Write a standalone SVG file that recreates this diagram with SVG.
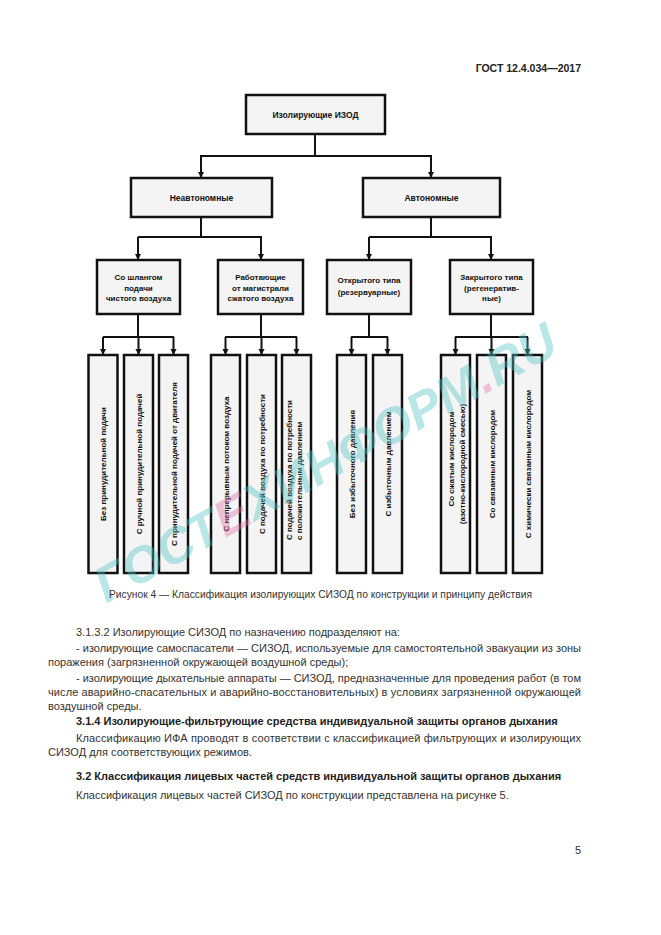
<svg xmlns="http://www.w3.org/2000/svg" width="661" height="935" viewBox="0 0 661 935">
<defs>
<marker id="arr" markerWidth="7" markerHeight="7" refX="6" refY="3.5" orient="auto" markerUnits="userSpaceOnUse">
<path d="M0,0.5 L6,3.5 L0,6.5 Z" fill="#111"/>
</marker>
<style>
.bx{fill:#f4f4f4;stroke:#111;stroke-width:2.5}
.lbl{font-family:"Liberation Sans",Arial,sans-serif;font-weight:bold;font-size:8px;fill:#111;text-anchor:middle}
.ln{fill:none;stroke:#111;stroke-width:2}
.ar{fill:none;stroke:#111;stroke-width:2;marker-end:url(#arr)}
.body{font-family:"Liberation Sans",Arial,sans-serif;font-size:11px;fill:#333}
.bold{font-weight:bold;fill:#222}
</style>
</defs>
<rect width="661" height="935" fill="#fff"/>
<text x="581" y="72" class="body bold" style="font-size:10.5px" text-anchor="end">ГОСТ 12.4.034—2017</text>

<g id="connectors">
<path class="ln" d="M315,134 V156 M200,156 H432"/>
<path class="ar" d="M201,156 V178"/>
<path class="ar" d="M431,156 V178"/>
<path class="ln" d="M201,217 V237 M138,237 H262"/>
<path class="ar" d="M138,237 V260"/>
<path class="ar" d="M261,237 V260"/>
<path class="ln" d="M431,217 V237 M369,237 H492"/>
<path class="ar" d="M369,237 V260"/>
<path class="ar" d="M491,237 V260"/>
<path class="ln" d="M138,314 V337 M103,337 H174"/>
<path class="ar" d="M103,337 V355"/>
<path class="ar" d="M138.5,337 V355"/>
<path class="ar" d="M173.5,337 V355"/>
<path class="ln" d="M261,314 V337 M225,337 H297"/>
<path class="ar" d="M225.5,337 V355"/>
<path class="ar" d="M261.5,337 V355"/>
<path class="ar" d="M296.5,337 V355"/>
<path class="ln" d="M369,314 V337 M351,337 H388"/>
<path class="ar" d="M351.5,337 V355"/>
<path class="ar" d="M387.5,337 V355"/>
<path class="ln" d="M491,314 V337 M455,337 H528"/>
<path class="ar" d="M455.5,337 V355"/>
<path class="ar" d="M491.5,337 V355"/>
<path class="ar" d="M527.5,337 V355"/>
</g>

<g id="n-root"><rect class="bx" x="246" y="95" width="139" height="39"/><text class="lbl" x="315.5" y="118" style="font-size:8.5px">Изолирующие ИЗОД</text></g>
<g id="n-neavt"><rect class="bx" x="131" y="178" width="141" height="39"/><text class="lbl" x="201.5" y="201" style="font-size:8.5px">Неавтономные</text></g>
<g id="n-avt"><rect class="bx" x="363" y="178" width="137" height="39"/><text class="lbl" x="431.5" y="201" style="font-size:8.5px">Автономные</text></g>

<g id="n-shlang"><rect class="bx" x="97" y="260" width="83" height="54"/><text class="lbl" x="138.5" y="280">Со шлангом</text><text class="lbl" x="138.5" y="290.5">подачи</text><text class="lbl" x="138.5" y="301">чистого воздуха</text></g>
<g id="n-magistr"><rect class="bx" x="218" y="260" width="85" height="54"/><text class="lbl" x="260.5" y="280">Работающие</text><text class="lbl" x="260.5" y="290.5">от магистрали</text><text class="lbl" x="260.5" y="301">сжатого воздуха</text></g>
<g id="n-open"><rect class="bx" x="327" y="260" width="84" height="54"/><text class="lbl" x="369" y="283">Открытого типа</text><text class="lbl" x="369" y="294.5">(резервуарные)</text></g>
<g id="n-closed"><rect class="bx" x="450" y="260" width="83" height="54"/><text class="lbl" x="491.5" y="280">Закрытого типа</text><text class="lbl" x="491.5" y="290.5">(регенератив-</text><text class="lbl" x="491.5" y="301">ные)</text></g>

<g id="n-1a"><rect class="bx" x="88.5" y="355" width="29" height="218"/><text class="lbl" transform="translate(106,464) rotate(-90)">Без принудительной подачи</text></g>
<g id="n-1b"><rect class="bx" x="124" y="355" width="29" height="218"/><text class="lbl" transform="translate(141.5,464) rotate(-90)">С ручной принудительной подачей</text></g>
<g id="n-1c"><rect class="bx" x="159" y="355" width="29" height="218"/><text class="lbl" transform="translate(176.5,464) rotate(-90)">С принудительной подачей от двигателя</text></g>

<g id="n-2a"><rect class="bx" x="211" y="355" width="29" height="218"/><text class="lbl" transform="translate(228.5,464) rotate(-90)">С непрерывным потоком воздуха</text></g>
<g id="n-2b"><rect class="bx" x="247" y="355" width="29" height="218"/><text class="lbl" transform="translate(264.5,464) rotate(-90)">С подачей воздуха по потребности</text></g>
<g id="n-2c"><rect class="bx" x="282" y="355" width="29" height="218"/><text class="lbl" style="text-anchor:start" transform="translate(291.5,540) rotate(-90)">С подачей воздуха по потребности</text><text class="lbl" style="text-anchor:start" transform="translate(302,540) rotate(-90)">с положительным давлением</text></g>

<g id="n-3a"><rect class="bx" x="337" y="355" width="29" height="218"/><text class="lbl" transform="translate(354.5,464) rotate(-90)">Без избыточного давления</text></g>
<g id="n-3b"><rect class="bx" x="373" y="355" width="29" height="218"/><text class="lbl" transform="translate(390.5,464) rotate(-90)">С избыточным давлением</text></g>

<g id="n-4a"><rect class="bx" x="441" y="355" width="29" height="218"/><text class="lbl" transform="translate(454,459) rotate(-90)">Со сжатым кислородом</text><text class="lbl" transform="translate(464.5,464) rotate(-90)">(азотно-кислородной смесью)</text></g>
<g id="n-4b"><rect class="bx" x="477" y="355" width="29" height="218"/><text class="lbl" transform="translate(494.5,464) rotate(-90)">Со связанным кислородом</text></g>
<g id="n-4c"><rect class="bx" x="513" y="355" width="29" height="218"/><text class="lbl" transform="translate(530.5,464) rotate(-90)">С химически связанным кислородом</text></g>

<text x="325" y="480" transform="rotate(-29 325 462)" text-anchor="middle" font-family="'Liberation Sans',Arial,sans-serif" font-weight="bold" font-style="italic" font-size="50" fill="#4fc0c0" fill-opacity="0.4" textLength="520" lengthAdjust="spacingAndGlyphs">ГОСТ<tspan fill="#e070a8">Е</tspan>ХИНФОРМ<tspan fill="#e070a8">.</tspan>RU</text>

<text class="body" x="109" y="598" style="font-size:10px" textLength="423" lengthAdjust="spacingAndGlyphs">Рисунок 4 — Классификация изолирующих СИЗОД по конструкции и принципу действия</text>

<g class="body">
<text x="76" y="636">3.1.3.2 Изолирующие СИЗОД по назначению подразделяют на:</text>
<text x="76" y="652" textLength="505" lengthAdjust="spacing">- изолирующие самоспасатели — СИЗОД, используемые для самостоятельной эвакуации из зоны</text>
<text x="48" y="666">поражения (загрязненной окружающей воздушной среды);</text>
<text x="76" y="682" textLength="505" lengthAdjust="spacing">- изолирующие дыхательные аппараты — СИЗОД, предназначенные для проведения работ (в том</text>
<text x="48" y="696" textLength="533" lengthAdjust="spacing">числе аварийно-спасательных и аварийно-восстановительных) в условиях загрязненной окружающей</text>
<text x="48" y="710">воздушной среды.</text>
<text x="76" y="725" class="bold">3.1.4 Изолирующие-фильтрующие средства индивидуальной защиты органов дыхания</text>
<text x="76" y="742" textLength="505" lengthAdjust="spacing">Классификацию ИФА проводят в соответствии с классификацией фильтрующих и изолирующих</text>
<text x="48" y="756">СИЗОД для соответствующих режимов.</text>
<text x="76" y="780" class="bold">3.2 Классификация лицевых частей средств индивидуальной защиты органов дыхания</text>
<text x="76" y="799">Классификация лицевых частей СИЗОД по конструкции представлена на рисунке 5.</text>
<text x="581" y="854" text-anchor="end">5</text>
</g>
</svg>
